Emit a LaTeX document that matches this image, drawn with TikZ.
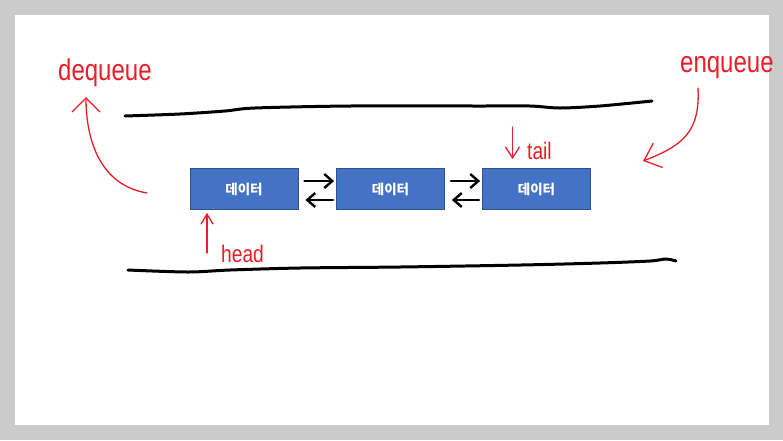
\documentclass[tikz,border=0pt]{standalone}
\usepackage{fontspec}
\usetikzlibrary{arrows.meta}
\newfontfamily\kr{Noto Sans CJK KR}
\newfontfamily\hand{Liberation Sans}[FakeStretch=0.8]
\definecolor{pen}{RGB}{232,30,40}
\definecolor{boxfill}{HTML}{4472C4}
\definecolor{boxline}{HTML}{2F528F}
\definecolor{frame}{HTML}{CBCBCB}
\tikzset{
	data/.style={fill=boxfill, draw=boxline, line width=0.8pt, minimum width=108pt,
		minimum height=41pt, inner sep=0pt, text=white,
		font=\kr\bfseries\fontsize{13.5}{13.5}\selectfont},
	link/.style={line width=2.4pt, line cap=round, -{Straight Barb[length=8pt,width=14pt]}},
	rail/.style={line width=3pt, line cap=round},
	note/.style={text=pen, inner sep=0pt, anchor=base west},
	pointer/.style={pen, line width=1.3pt, line cap=round}
}
\newcommand{\links}[2]{\draw[link] ([shift={(6,-8)}]#1.east) -- ([shift={(-2,-8)}]#2.west);
	\draw[link] ([shift={(-3,11)}]#2.west) -- ([shift={(7,11)}]#1.east)}

\begin{document}
\begin{tikzpicture}[x=1pt,y=-1pt]
	\fill[frame] (0,0) rectangle (783,440);
	\fill[white] (15,15) rectangle (769,425);
	\draw[rail] plot[smooth,tension=0.5] coordinates {(125,116) (180,114) (225,111) (255,108)
		(350,106) (480,106) (530,106) (560,108) (600,106) (652,101)};
	\draw[rail] plot[smooth,tension=0.5] coordinates {(128,270) (188,272) (230,270) (300,268)
		(400,267) (521,265) (600,263) (650,261) (666,259) (676,261)};
	\node[data] (d1) at (244,189) {데이터};
	\node[data] (d2) at (390.5,189) {데이터};
	\node[data] (d3) at (536.5,189) {데이터};
	\links{d1}{d2};
	\links{d2}{d3};
	\node[note, font=\hand\fontsize{30}{30}\selectfont] (deq) at (58,80) {dequeue};
	\node[note, font=\hand\fontsize{30}{30}\selectfont] (enq) at (680,72) {enqueue};
	\node[note, font=\hand\fontsize{24}{24}\selectfont] (tail) at (527,159) {tail};
	\node[note, font=\hand\fontsize{24}{24}\selectfont] (head) at (221,262) {head};
	\coordinate (deqfrom) at (147,193);
	\coordinate (deqto) at (86,97);
	\coordinate (enqfrom) at (698,88);
	\coordinate (enqto) at (643,161);
	\draw[pointer, -{Straight Barb[length=14pt,width=28pt]}] (deqfrom)
		.. controls (100,185) and (86,140) .. (deqto);
	\draw[pointer, -{Straight Barb[length=15pt,width=26pt]}] (enqfrom)
		.. controls (700,130) and (685,145) .. (enqto);
	\draw[pointer, -{Straight Barb[length=11pt,width=14pt]}] ([shift={(-24,-41)}]d3.north)
		-- ([shift={(-24,-9)}]d3.north);
	\draw[pointer, -{Straight Barb[length=10pt,width=12pt]}] ([shift={(-37,43)}]d1.south)
		-- ([shift={(-37,3)}]d1.south);
\end{tikzpicture}
\end{document}
